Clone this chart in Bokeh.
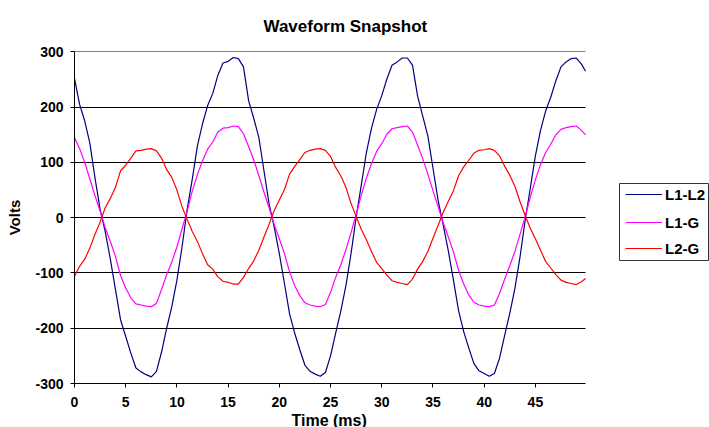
from bokeh.plotting import figure
from bokeh.models import Legend, LegendItem, Range1d, Title, BoxAnnotation
from bokeh.embed import file_html
from bokeh.resources import INLINE

# Sample times (ms)
time_ms = [
    0.0, 0.5, 1.0, 1.5, 2.0, 2.5, 3.0, 3.5, 4.0, 4.5, 5.0, 5.5, 6.0, 6.5, 7.0, 7.5, 8.0, 8.5, 9.0, 9.5,
    10.0, 10.5, 11.0, 11.5, 12.0, 12.5, 13.0, 13.5, 14.0, 14.5, 15.0, 15.5, 16.0, 16.5, 17.0, 17.5, 18.0, 18.5, 19.0, 19.5,
    20.0, 20.5, 21.0, 21.5, 22.0, 22.5, 23.0, 23.5, 24.0, 24.5, 25.0, 25.5, 26.0, 26.5, 27.0, 27.5, 28.0, 28.5, 29.0, 29.5,
    30.0, 30.5, 31.0, 31.5, 32.0, 32.5, 33.0, 33.5, 34.0, 34.5, 35.0, 35.5, 36.0, 36.5, 37.0, 37.5, 38.0, 38.5, 39.0, 39.5,
    40.0, 40.5, 41.0, 41.5, 42.0, 42.5, 43.0, 43.5, 44.0, 44.5, 45.0, 45.5, 46.0, 46.5, 47.0, 47.5, 48.0, 48.5, 49.0, 49.5,
    49.9,
]

l1_l2 = [
    252, 205, 175, 135, 72, 15, -25, -75, -130, -185, -215, -245, -272, -279, -284, -288, -278, -243, -200, -161,
    -113, -53, 15, 70, 130, 170, 203, 225, 258, 280, 283, 290, 288, 273,
    212, 180, 145, 85, 25, -17, -65, -119, -174, -209, -239, -267, -278, -283, -287, -280, -250, -209, -169, -123,
    -65, 1, 59, 118, 162, 196, 221, 251, 276, 282, 289, 289, 276,
    220, 184, 148, 90, 32, -13, -60, -113, -168, -206, -236, -264, -277, -282, -287, -282, -254, -213, -173, -128,
    -71, -5, 53, 112, 158, 193, 218, 248, 273, 282, 288, 289, 278,
    265,
]

l1_g = [
    145, 125, 100, 70, 40, 12, -18, -43, -70, -105, -127, -145, -156, -158, -160, -161, -155, -130, -103, -80,
    -53, -20, 12, 48, 78, 103, 124, 137, 155, 162, 163, 166, 165, 152,
    129, 105, 76, 46, 18, -12, -38, -65, -98, -123, -141, -154, -158, -160, -161, -157, -135, -108, -85, -58,
    -27, 6, 41, 72, 98, 120, 134, 151, 161, 163, 165, 166, 155,
    131, 107, 79, 49, 20, -9, -35, -62, -95, -120, -140, -153, -158, -160, -161, -158, -137, -111, -87, -61,
    -30, 2, 37, 69, 96, 118, 133, 150, 160, 163, 165, 166, 158,
    150,
]

l2_g = [
    -106, -88, -75, -55, -30, -8, 18, 35, 55, 85, 95, 108, 121, 122, 124, 125, 121, 108, 87, 73,
    50, 20, -3, -25, -43, -65, -85, -93, -107, -115, -117, -120, -120, -108,
    -92, -78, -59, -35, -12, 13, 32, 51, 79, 93, 105, 118, 122, 124, 125, 122, 111, 91, 76, 55,
    26, 2, -21, -40, -61, -81, -92, -104, -114, -117, -119, -121, -111,
    -93, -79, -61, -37, -14, 10, 30, 49, 76, 92, 104, 117, 122, 123, 125, 122, 112, 93, 77, 57,
    29, 4, -19, -38, -59, -79, -91, -103, -113, -117, -119, -121, -116,
    -110,
]

series_names = ["L1-L2", "L1-G", "L2-G"]
series_colors = ["#000080", "#FF00FF", "#FF0000"]
x_ticks = [0, 5, 10, 15, 20, 25, 30, 35, 40, 45]
y_ticks = [-300, -200, -100, 0, 100, 200, 300]
y_tick_labels = {-300: "-300", -200: "-200", -100: "-100", 0: "0", 100: "100", 200: "200", 300: "300"}
x_end = 49.9

FONT = "Liberation Sans"

# The frame reaches the right edge so the legend (drawn inside the frame) is not clipped;
# the axis line and grid lines are bounded to the data extent 0..49.9 ms.
p = figure(frame_width=635, frame_height=332, output_backend="svg", toolbar_location=None,
           x_range=Range1d(0, 62.0), y_range=Range1d(-300, 300.8),
           min_border_left=74, min_border_right=0, min_border_top=51, min_border_bottom=44,
           background_fill_color="white", border_fill_color="white")
p.outline_line_color = None

p.title.text = "Waveform Snapshot"
p.title.text_font = FONT
p.title.text_font_size = "17px"
p.title.text_font_style = "bold"
p.title.align = "left"
p.title.offset = 189
p.title.vertical_align = "top"
p.title.standoff = 27
p.title.text_color = "black"

r1 = p.line(time_ms, l1_l2, line_color=series_colors[0], line_width=1.2)
r2 = p.line(time_ms, l1_g, line_color=series_colors[1], line_width=1.2)
r3 = p.line(time_ms, l2_g, line_color=series_colors[2], line_width=1.2)

for ax in (p.xaxis[0], p.yaxis[0]):
    ax.axis_line_color = "black"
    ax.axis_line_width = 1
    ax.major_tick_line_color = "black"
    ax.major_tick_in = 0
    ax.major_tick_out = 4
    ax.minor_tick_line_color = None
    ax.major_label_text_font = FONT
    ax.major_label_text_font_size = "14px"
    ax.major_label_text_font_style = "bold"
    ax.major_label_text_color = "black"
    ax.axis_label_text_font = FONT
    ax.axis_label_text_font_size = "15px"
    ax.axis_label_text_font_style = "bold"
    ax.axis_label_text_color = "black"

p.xaxis.ticker = x_ticks
p.xaxis.bounds = (0, x_end)
p.yaxis.ticker = y_ticks
p.yaxis.major_label_overrides = y_tick_labels
p.yaxis.axis_label = "Volts"
p.xaxis.major_label_standoff = 9
p.yaxis.major_label_standoff = 7
p.yaxis.axis_label_standoff = 9

xlabel = Title(text="Time (ms)", align="left", offset=217, standoff=0,
               text_font=FONT, text_font_size="16px", text_font_style="bold", text_color="black")
p.add_layout(xlabel, "below")

p.xgrid.visible = False
p.ygrid.ticker = y_ticks
p.ygrid.cross_bounds = (0, x_end)
p.ygrid.grid_line_color = "black"
p.ygrid.grid_line_width = 1

# Legend box (screen offsets from the frame's bottom-left corner)
legend_box = BoxAnnotation(left=545, right=634, bottom=123, top=200,
                           left_units="screen", right_units="screen",
                           bottom_units="screen", top_units="screen",
                           fill_color="white", fill_alpha=1.0,
                           line_color="#333333", line_width=1, line_alpha=1.0)
p.add_layout(legend_box)

# One legend entry per Legend object, stacked inside the box
renderers = [r1, r2, r3]
row_bottoms = [179, 151, 125]
for name, rend, yb in zip(series_names, renderers, row_bottoms):
    lg = Legend(items=[LegendItem(label=name, renderers=[rend])],
                location=(551, yb), orientation="vertical",
                border_line_color=None, background_fill_alpha=0,
                padding=0, spacing=0, margin=0,
                label_height=20, glyph_height=20, glyph_width=37, label_standoff=3,
                label_text_font=FONT, label_text_font_size="15px", label_text_font_style="bold",
                label_text_color="black")
    p.add_layout(lg, "center")

open("out.html", "w").write(file_html(p, INLINE))
